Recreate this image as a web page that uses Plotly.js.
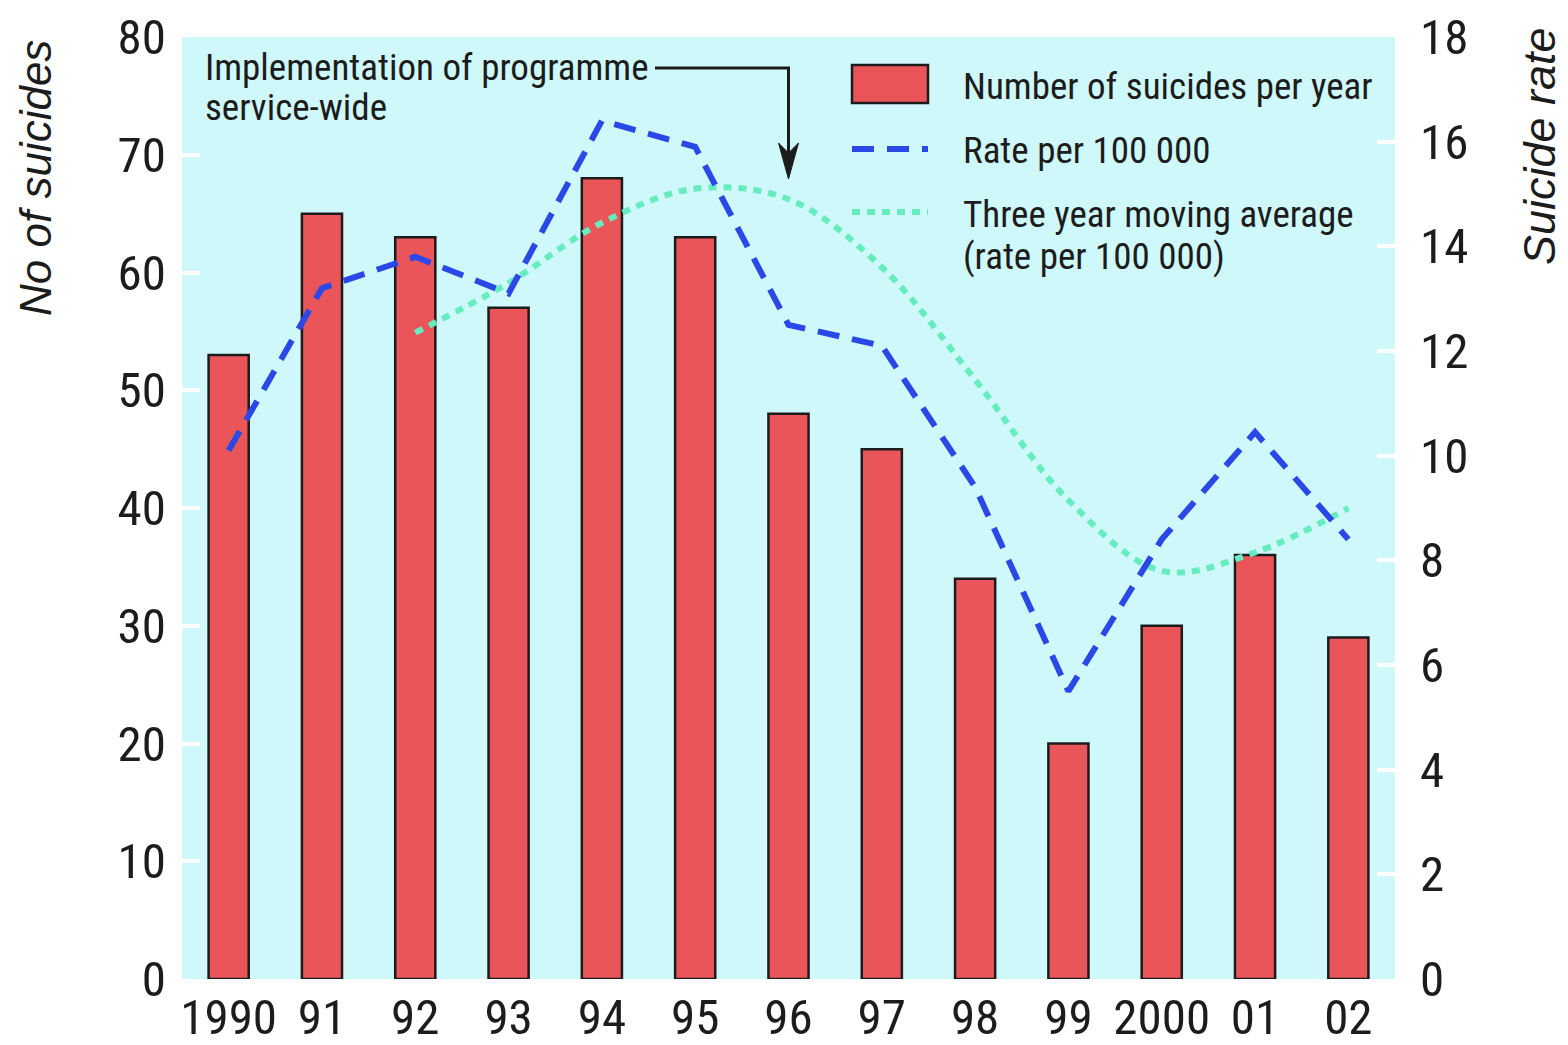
<!DOCTYPE html>
<html>
<head>
<meta charset="utf-8">
<script src="https://cdn.plot.ly/plotly-3.0.1.min.js"></script>
<style>html,body{margin:0;padding:0;background:#fff;}#chart{width:1568px;height:1045px;}</style>
</head>
<body>
<div id="chart"></div>
<script>
// ---- data ----
var years = ["1990", "91", "92", "93", "94", "95", "96", "97", "98", "99", "2000", "01", "02"];
var suicides = [53, 65, 63, 57, 68, 63, 48, 45, 34, 20, 30, 36, 29];
var ratePer100k = [10.1, 13.2, 13.8, 13.1, 16.4, 15.9, 12.5, 12.1, 9.4, 5.5, 8.4, 10.45, 8.4];
var movingAvg = [null, null, 12.35, 13.3, 14.45, 15.1, 14.9, 13.6, 11.45, 9.15, 7.8, 8.15, 9.0];
var leftTicks = [0, 10, 20, 30, 40, 50, 60, 70, 80];
var rightTicks = [0, 2, 4, 6, 8, 10, 12, 14, 16, 18];
var seriesNames = ["Number of suicides per year", "Rate per 100 000", "Three year moving average", "(rate per 100 000)"];
var noteLines = ["Implementation of programme", "service-wide"];
var noteYear = "96";

// ---- layout helpers (pixel -> paper) ----
var W = 1568, H = 1045, L = 182, R = 1395, T = 37, B = 979;
function xp(px) { return (px - L) / (R - L); }
function yp(py) { return (B - py) / (B - T); }

var RED = "#EA5559", BLUE = "#2A48E6", GREEN = "#66ECBF", BG = "#CFF8FA", INK = "#1c1c1c";
var NARROW = "Roboto Condensed, Liberation Sans Narrow, sans-serif";
var SANS = "Liberation Sans, Arial, sans-serif";

var traces = [
  { type: "bar", x: years, y: suicides, name: seriesNames[0], yaxis: "y",
    width: 0.43, marker: { color: RED, line: { color: INK, width: 2.5 } } },
  { type: "scatter", mode: "lines", x: years, y: movingAvg, name: seriesNames[2], yaxis: "y2",
    line: { color: GREEN, width: 6, dash: "8px,7px", shape: "spline", smoothing: 1 }, connectgaps: false },
  { type: "scatter", mode: "lines", x: years, y: ratePer100k, name: seriesNames[1], yaxis: "y2",
    line: { color: BLUE, width: 6, dash: "22px,13px" } }
];

// arrow tip sits on the 1996 category
var tipX = xp(L + (years.indexOf(noteYear) + 0.5) * (R - L) / years.length);
function P(xpaper, py) { return xpaper + "," + yp(py); }
function dx(px) { return px / (R - L); }

var shapes = [
  { type: "rect", xref: "paper", yref: "paper", x0: xp(852), x1: xp(928), y0: yp(103), y1: yp(65),
    fillcolor: RED, line: { color: INK, width: 2.5 } },
  { type: "line", xref: "paper", yref: "paper", x0: xp(852), x1: xp(928), y0: yp(149), y1: yp(149),
    line: { color: BLUE, width: 6, dash: "22px,13px" } },
  { type: "line", xref: "paper", yref: "paper", x0: xp(852), x1: xp(928), y0: yp(212), y1: yp(212),
    line: { color: GREEN, width: 6, dash: "8px,7px" } },
  { type: "path", xref: "paper", yref: "paper",
    path: "M" + P(xp(655), 68) + " L" + P(tipX, 68) + " L" + P(tipX, 160),
    line: { color: INK, width: 3 } },
  { type: "path", xref: "paper", yref: "paper",
    path: "M" + P(tipX, 179) + " L" + P(tipX - dx(10), 143) + " L" + P(tipX, 153) + " L" + P(tipX + dx(10), 143) + " Z",
    fillcolor: INK, line: { color: INK, width: 1 } }
];

function txt(text, px, py, font, size) {
  return { xref: "paper", yref: "paper", x: xp(px), y: yp(py), xanchor: "left", yanchor: "middle",
    text: text, showarrow: false, font: { family: font, size: size, color: INK } };
}

var annotations = [
  txt(noteLines[0], 203, 67, NARROW, 37),
  txt(noteLines[1], 203, 108, NARROW, 37),
  txt(seriesNames[0], 961, 87, NARROW, 37),
  txt(seriesNames[1], 961, 151, NARROW, 37),
  txt(seriesNames[2], 961, 215, NARROW, 37),
  txt(seriesNames[3], 961, 257, NARROW, 37),
  { xref: "paper", yref: "paper", x: xp(35), y: yp(38), xanchor: "center", yanchor: "top",
    textangle: -90, text: "No of suicides", showarrow: false,
    font: { family: SANS, size: 44, color: INK, style: "italic" } },
  { xref: "paper", yref: "paper", x: xp(1539), y: yp(25), xanchor: "center", yanchor: "top",
    textangle: -90, text: "Suicide rate", showarrow: false,
    font: { family: SANS, size: 45, color: INK, style: "italic" } }
];

var layout = {
  width: W, height: H,
  margin: { l: L, r: W - R, t: T, b: H - B, pad: 0 },
  paper_bgcolor: "#ffffff", plot_bgcolor: BG,
  showlegend: false,
  xaxis: { type: "category", range: [-0.5, 12.5], showgrid: false, zeroline: false, showline: false,
    ticks: "", tickfont: { family: NARROW, size: 49, color: INK }, ticklabelstandoff: 5, fixedrange: true },
  yaxis: { range: [0, 80], tickvals: leftTicks, showgrid: false, zeroline: false, showline: false,
    ticks: "inside", ticklen: 18, tickwidth: 4, tickcolor: "#ffffff",
    tickfont: { family: NARROW, size: 49, color: INK }, ticklabelstandoff: 15 },
  yaxis2: { range: [0, 18], tickvals: rightTicks, overlaying: "y", side: "right", showgrid: false,
    zeroline: false, showline: false, ticks: "inside", ticklen: 18, tickwidth: 4, tickcolor: "#ffffff",
    tickfont: { family: NARROW, size: 49, color: INK }, ticklabelstandoff: 24 },
  shapes: shapes,
  annotations: annotations
};

Plotly.newPlot("chart", traces, layout, { displayModeBar: false, staticPlot: true });
</script>
</body>
</html>
